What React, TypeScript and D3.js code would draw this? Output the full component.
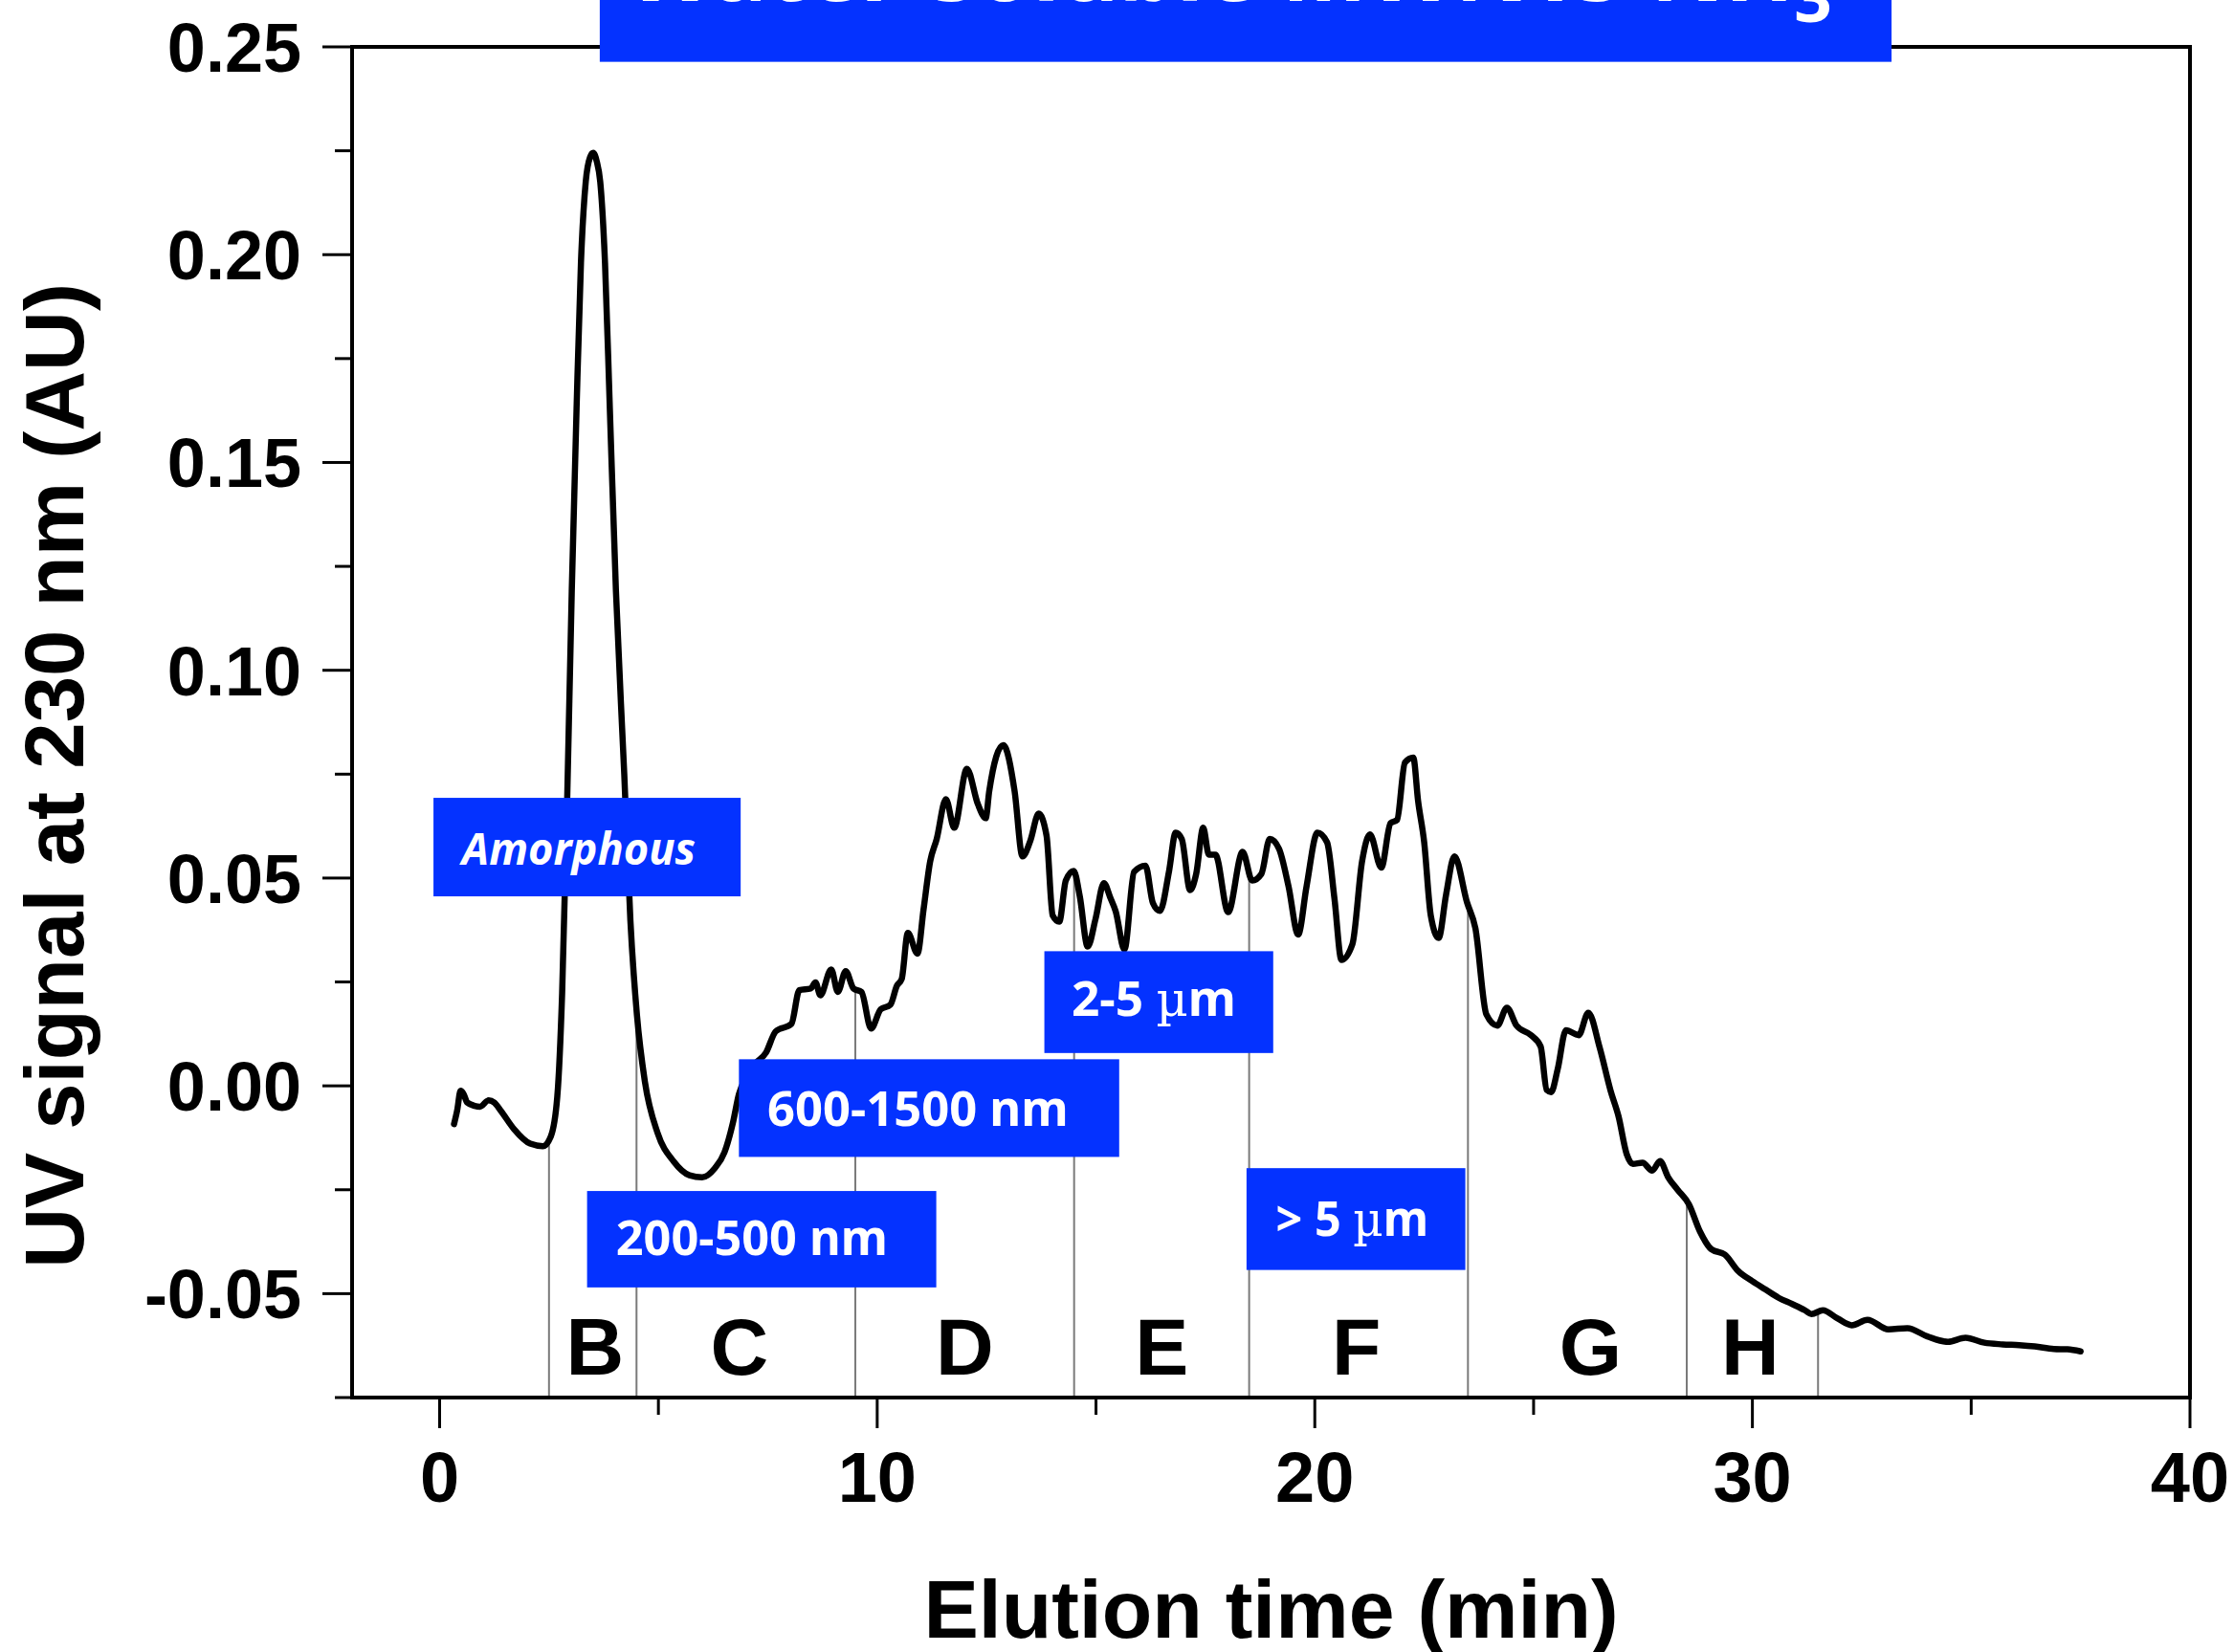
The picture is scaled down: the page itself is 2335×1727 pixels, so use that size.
import React from 'react';
import * as d3 from 'd3';

// Elution time (min)
const TIMES = [
  0.33, 0.40, 0.48, 0.55, 0.63, 0.80, 0.92, 1.12, 1.25, 1.40, 1.70, 2.07, 2.36, 2.54, 2.69, 2.80, 2.91, 3.02,
  3.13, 3.23, 3.34, 3.44, 3.51, 3.59, 3.67, 3.78, 3.89, 4.03, 4.22, 4.36, 4.51, 4.69, 4.98, 5.35, 5.71, 6.00,
  6.29, 6.51, 6.70, 6.84, 7.00, 7.17, 7.46, 7.68, 8.04, 8.22, 8.48, 8.59, 8.70, 8.95, 9.10, 9.28, 9.46, 9.64,
  9.86, 10.08, 10.30, 10.45, 10.56, 10.70, 10.92, 11.06, 11.21, 11.36, 11.57, 11.76, 12.05, 12.30, 12.48, 12.56,
  12.88, 13.14, 13.32, 13.50, 13.69, 13.87, 14.01, 14.16, 14.31, 14.49, 14.63, 14.81, 14.99, 15.18, 15.33, 15.45,
  15.65, 15.87, 16.13, 16.30, 16.46, 16.67, 16.82, 16.96, 17.15, 17.29, 17.45, 17.58, 17.73, 18.02, 18.35, 18.57,
  18.78, 18.97, 19.18, 19.40, 19.62, 19.81, 20.06, 20.28, 20.45, 20.61, 20.86, 21.08, 21.26, 21.52, 21.73, 21.88,
  22.06, 22.25, 22.36, 22.50, 22.65, 22.83, 23.00, 23.19, 23.48, 23.67, 23.92, 24.17, 24.39, 24.61, 24.94, 25.16,
  25.30, 25.40, 25.55, 25.74, 26.03, 26.25, 26.51, 26.76, 26.94, 27.13, 27.27, 27.49, 27.71, 27.89, 28.07, 28.29,
  28.55, 28.80, 29.06, 29.37, 29.68, 30.00, 30.30, 30.60, 30.91, 31.20, 31.35, 31.61, 31.95, 32.27, 32.63, 33.11,
  33.54, 34.00, 34.47, 34.87, 35.30, 35.72, 36.10, 36.45, 36.89, 37.20, 37.50,
];

// UV signal at 230 nm (AU)
const SIGNAL = [
  -0.0092, -0.0060, -0.0012, -0.0020, -0.0040, -0.0048, -0.0050, -0.0035, -0.0040, -0.0060, -0.0104, -0.0139,
  -0.0145, -0.0122, -0.0025, 0.0223, 0.0662, 0.119, 0.163, 0.198, 0.2176, 0.2235, 0.2245, 0.2225, 0.2176, 0.198,
  0.163, 0.119, 0.075, 0.0398, 0.017, 0.0011, -0.0113, -0.0182, -0.0215, -0.0220, -0.0198, -0.0160, -0.0090,
  -0.0020, 0.0020, 0.0049, 0.0080, 0.0131, 0.0149, 0.0230, 0.0234, 0.0249, 0.0218, 0.0280, 0.0226, 0.0276, 0.0234,
  0.0226, 0.0138, 0.0184, 0.0195, 0.0241, 0.0257, 0.0368, 0.0318, 0.0425, 0.0540, 0.0594, 0.0690, 0.0621, 0.0763,
  0.0678, 0.0644, 0.0709, 0.0820, 0.0709, 0.0552, 0.0590, 0.0655, 0.0602, 0.0410, 0.0395, 0.0494, 0.0517, 0.0456,
  0.0335, 0.0402, 0.0488, 0.0452, 0.0420, 0.0328, 0.0515, 0.0530, 0.0440, 0.0421, 0.0517, 0.0609, 0.0594, 0.0471,
  0.0510, 0.0621, 0.0556, 0.0556, 0.0418, 0.0563, 0.0494, 0.0510, 0.0594, 0.0571, 0.0480, 0.0364, 0.0479, 0.0609,
  0.0586, 0.0450, 0.0303, 0.0341, 0.0540, 0.0605, 0.0525, 0.0632, 0.0640, 0.0778, 0.0790, 0.0686, 0.0586, 0.0410,
  0.0356, 0.0460, 0.0552, 0.0441, 0.0379, 0.0172, 0.0145, 0.0188, 0.0145, 0.0122, 0.0095, -0.0010, -0.0015, 0.0040,
  0.0134, 0.0122, 0.0176, 0.0092, -0.0012, -0.0073, -0.0165, -0.0188, -0.0185, -0.0204, -0.0181, -0.0219, -0.0250,
  -0.0285, -0.0350, -0.0393, -0.0406, -0.0446, -0.0470, -0.0490, -0.0510, -0.0525, -0.0540, -0.0549, -0.0540,
  -0.0560, -0.0576, -0.0563, -0.0586, -0.0583, -0.0603, -0.0616, -0.0606, -0.0618, -0.0622, -0.0624, -0.0627,
  -0.0633, -0.0634, -0.0639,
];

const X_TICKS = [0, 10, 20, 30, 40];
const X_MINOR = [5, 15, 25, 35];
const Y_TICKS = [-0.05, 0, 0.05, 0.1, 0.15, 0.2, 0.25];
const Y_TICK_LABELS = ['-0.05', '0.00', '0.05', '0.10', '0.15', '0.20', '0.25'];
const Y_MINOR = [-0.075, -0.025, 0.025, 0.075, 0.125, 0.175, 0.225];

// fraction boundaries (min) and region letters
const BOUNDARIES = [2.5, 4.5, 9.5, 14.5, 18.5, 23.5, 28.5, 31.5];
const REGION_LABELS = ['B', 'C', 'D', 'E', 'F', 'G', 'H'];
const REGION_LABEL_X = [3.55, 6.85, 12.0, 16.5, 20.95, 26.3, 29.95];
const REGION_LABEL_Y = -0.0695;

// size annotation boxes, in data units: [x0, x1, yTop, yBottom]
const SIZE_LABELS = ['Amorphous', '200-500 nm', '600-1500 nm', '2-5 µm', '> 5 µm'];
const SIZE_BOXES = [
  [-0.14, 6.88, 0.0693, 0.0456],
  [3.37, 11.35, -0.0253, -0.0485],
  [6.84, 15.53, 0.0064, -0.0171],
  [13.82, 19.05, 0.0324, 0.0079],
  [18.44, 23.44, -0.0198, -0.0443],
];
// text extents in data units: [xLeft, xRight, baseline]
const SIZE_TEXT = [
  [0.51, 5.85, 0.0532],
  [4.03, 10.24, -0.0407],
  [7.49, 14.37, -0.0096],
  [14.44, 18.2, 0.0169],
  [19.11, 22.6, -0.0361],
];
const TITLE_BOX = [3.66, 33.18, 0.2613, 0.2464];
const TITLE_TEXT = [4.27, 31.82, 0.2610];

const BLUE = '#0432FF';

export default function App() {
  const W = 2335;
  const H = 1727;
  const x = d3.scaleLinear().domain([-2, 40]).range([368, 2289]);
  const y = d3.scaleLinear().domain([-0.075, 0.25]).range([1461, 49]);

  const data = TIMES.map((t, i) => [t, SIGNAL[i]] as [number, number]);
  const line = d3
    .line<[number, number]>()
    .x((d) => x(d[0]))
    .y((d) => y(d[1]))
    .curve(d3.curveMonotoneX);

  const interp = (t: number) => {
    const i = d3.bisectLeft(TIMES, t);
    if (i <= 0) return SIGNAL[0];
    if (i >= TIMES.length) return SIGNAL[SIGNAL.length - 1];
    const t0 = TIMES[i - 1], t1 = TIMES[i];
    const f = (t - t0) / (t1 - t0);
    return SIGNAL[i - 1] + f * (SIGNAL[i] - SIGNAL[i - 1]);
  };

  const axisFont = "'Liberation Sans', Arial, Helvetica, sans-serif";
  const boxFont = "'Noto Sans', 'Open Sans', sans-serif";
  const [x0, x1] = x.range();
  const [yb, yt] = y.range();

  return (
    <svg
      width={W}
      height={H}
      viewBox={`0 0 ${W} ${H}`}
      style={{ position: 'absolute', left: 0, top: 0, background: '#fff' }}
    >
      <rect x={0} y={0} width={W} height={H} fill="#fff" />

      {/* fraction dividers */}
      {BOUNDARIES.map((b) => (
        <line
          key={b}
          x1={x(b)}
          x2={x(b)}
          y1={yb}
          y2={y(interp(b))}
          stroke="#7a7a7a"
          strokeWidth={2}
        />
      ))}

      {/* curve */}
      <path d={line(data) || ''} fill="none" stroke="#000" strokeWidth={6.5} strokeLinejoin="round" strokeLinecap="round" />

      {/* frame */}
      <rect x={x0} y={yt} width={x1 - x0} height={yb - yt} fill="none" stroke="#000" strokeWidth={4} />

      {/* y ticks */}
      {Y_TICKS.map((v, i) => (
        <g key={'yt' + v}>
          <line x1={x0 - 31} x2={x0} y1={y(v)} y2={y(v)} stroke="#000" strokeWidth={3} />
          <text
            x={315}
            y={y(v)}
            dy="0.36em"
            textAnchor="end"
            fontFamily={axisFont}
            fontWeight="bold"
            fontSize={72}
            fill="#000"
          >
            {Y_TICK_LABELS[i]}
          </text>
        </g>
      ))}
      {Y_MINOR.map((v) => (
        <line key={'ym' + v} x1={x0 - 18} x2={x0} y1={y(v)} y2={y(v)} stroke="#000" strokeWidth={3} />
      ))}

      {/* x ticks */}
      {X_TICKS.map((v) => (
        <g key={'xt' + v}>
          <line x1={x(v)} x2={x(v)} y1={yb} y2={yb + 32} stroke="#000" strokeWidth={3} />
          <text
            x={x(v)}
            y={1570}
            textAnchor="middle"
            fontFamily={axisFont}
            fontWeight="bold"
            fontSize={74}
            fill="#000"
          >
            {v}
          </text>
        </g>
      ))}
      {X_MINOR.map((v) => (
        <line key={'xm' + v} x1={x(v)} x2={x(v)} y1={yb} y2={yb + 18} stroke="#000" strokeWidth={3} />
      ))}

      {/* axis titles */}
      <text
        x={(x0 + x1) / 2}
        y={1712}
        textAnchor="middle"
        fontFamily={axisFont}
        fontWeight="bold"
        fontSize={86}
        fill="#000"
      >
        Elution time (min)
      </text>
      <text
        transform={`translate(87, ${(yt + yb) / 2 + 56}) rotate(-90)`}
        textAnchor="middle"
        fontFamily={axisFont}
        fontWeight="bold"
        fontSize={87}
        fill="#000"
      >
        UV signal at 230 nm (AU)
      </text>

      {/* size annotation boxes */}
      {SIZE_BOXES.map((b, i) => {
        const t = SIZE_TEXT[i];
        const label = SIZE_LABELS[i];
        const hasMu = label.includes('µ');
        const parts = hasMu ? label.split('µ') : [label];
        return (
          <g key={label}>
            <rect x={x(b[0])} y={y(b[2])} width={x(b[1]) - x(b[0])} height={y(b[3]) - y(b[2])} fill={BLUE} />
            <text
              x={x(t[0])}
              y={y(t[2])}
              textLength={x(t[1]) - x(t[0])}
              lengthAdjust="spacingAndGlyphs"
              fontFamily={boxFont}
              fontWeight="bold"
              fontStyle={i === 0 ? 'italic' : 'normal'}
              fontSize={i === 0 ? 46 : 50}
              fill="#fff"
            >
              {hasMu ? (
                <>
                  {parts[0]}
                  <tspan fontWeight="normal" fontFamily="'DejaVu Serif', serif">µ</tspan>
                  {parts[1]}
                </>
              ) : (
                label
              )}
            </text>
          </g>
        );
      })}

      {/* region letters */}
      {REGION_LABELS.map((l, i) => (
        <text
          key={l}
          x={x(REGION_LABEL_X[i])}
          y={y(REGION_LABEL_Y)}
          textAnchor="middle"
          fontFamily={axisFont}
          fontWeight="bold"
          fontSize={84}
          fill="#000"
        >
          {l}
        </text>
      ))}

      {/* title box (cut at the top edge) */}
      <rect
        x={x(TITLE_BOX[0])}
        y={y(TITLE_BOX[2])}
        width={x(TITLE_BOX[1]) - x(TITLE_BOX[0])}
        height={y(TITLE_BOX[3]) - y(TITLE_BOX[2])}
        fill={BLUE}
      />
      <text
        x={x(TITLE_TEXT[0])}
        y={y(TITLE_TEXT[2])}
        textLength={x(TITLE_TEXT[1]) - x(TITLE_TEXT[0])}
        lengthAdjust="spacingAndGlyphs"
        fontFamily={boxFont}
        fontWeight="bold"
        fontSize={96}
        fill="#fff"
      >
        Water-soluble MWNTs-NH
        <tspan dy={22} fontSize={70}>3</tspan>
      </text>
    </svg>
  );
}
